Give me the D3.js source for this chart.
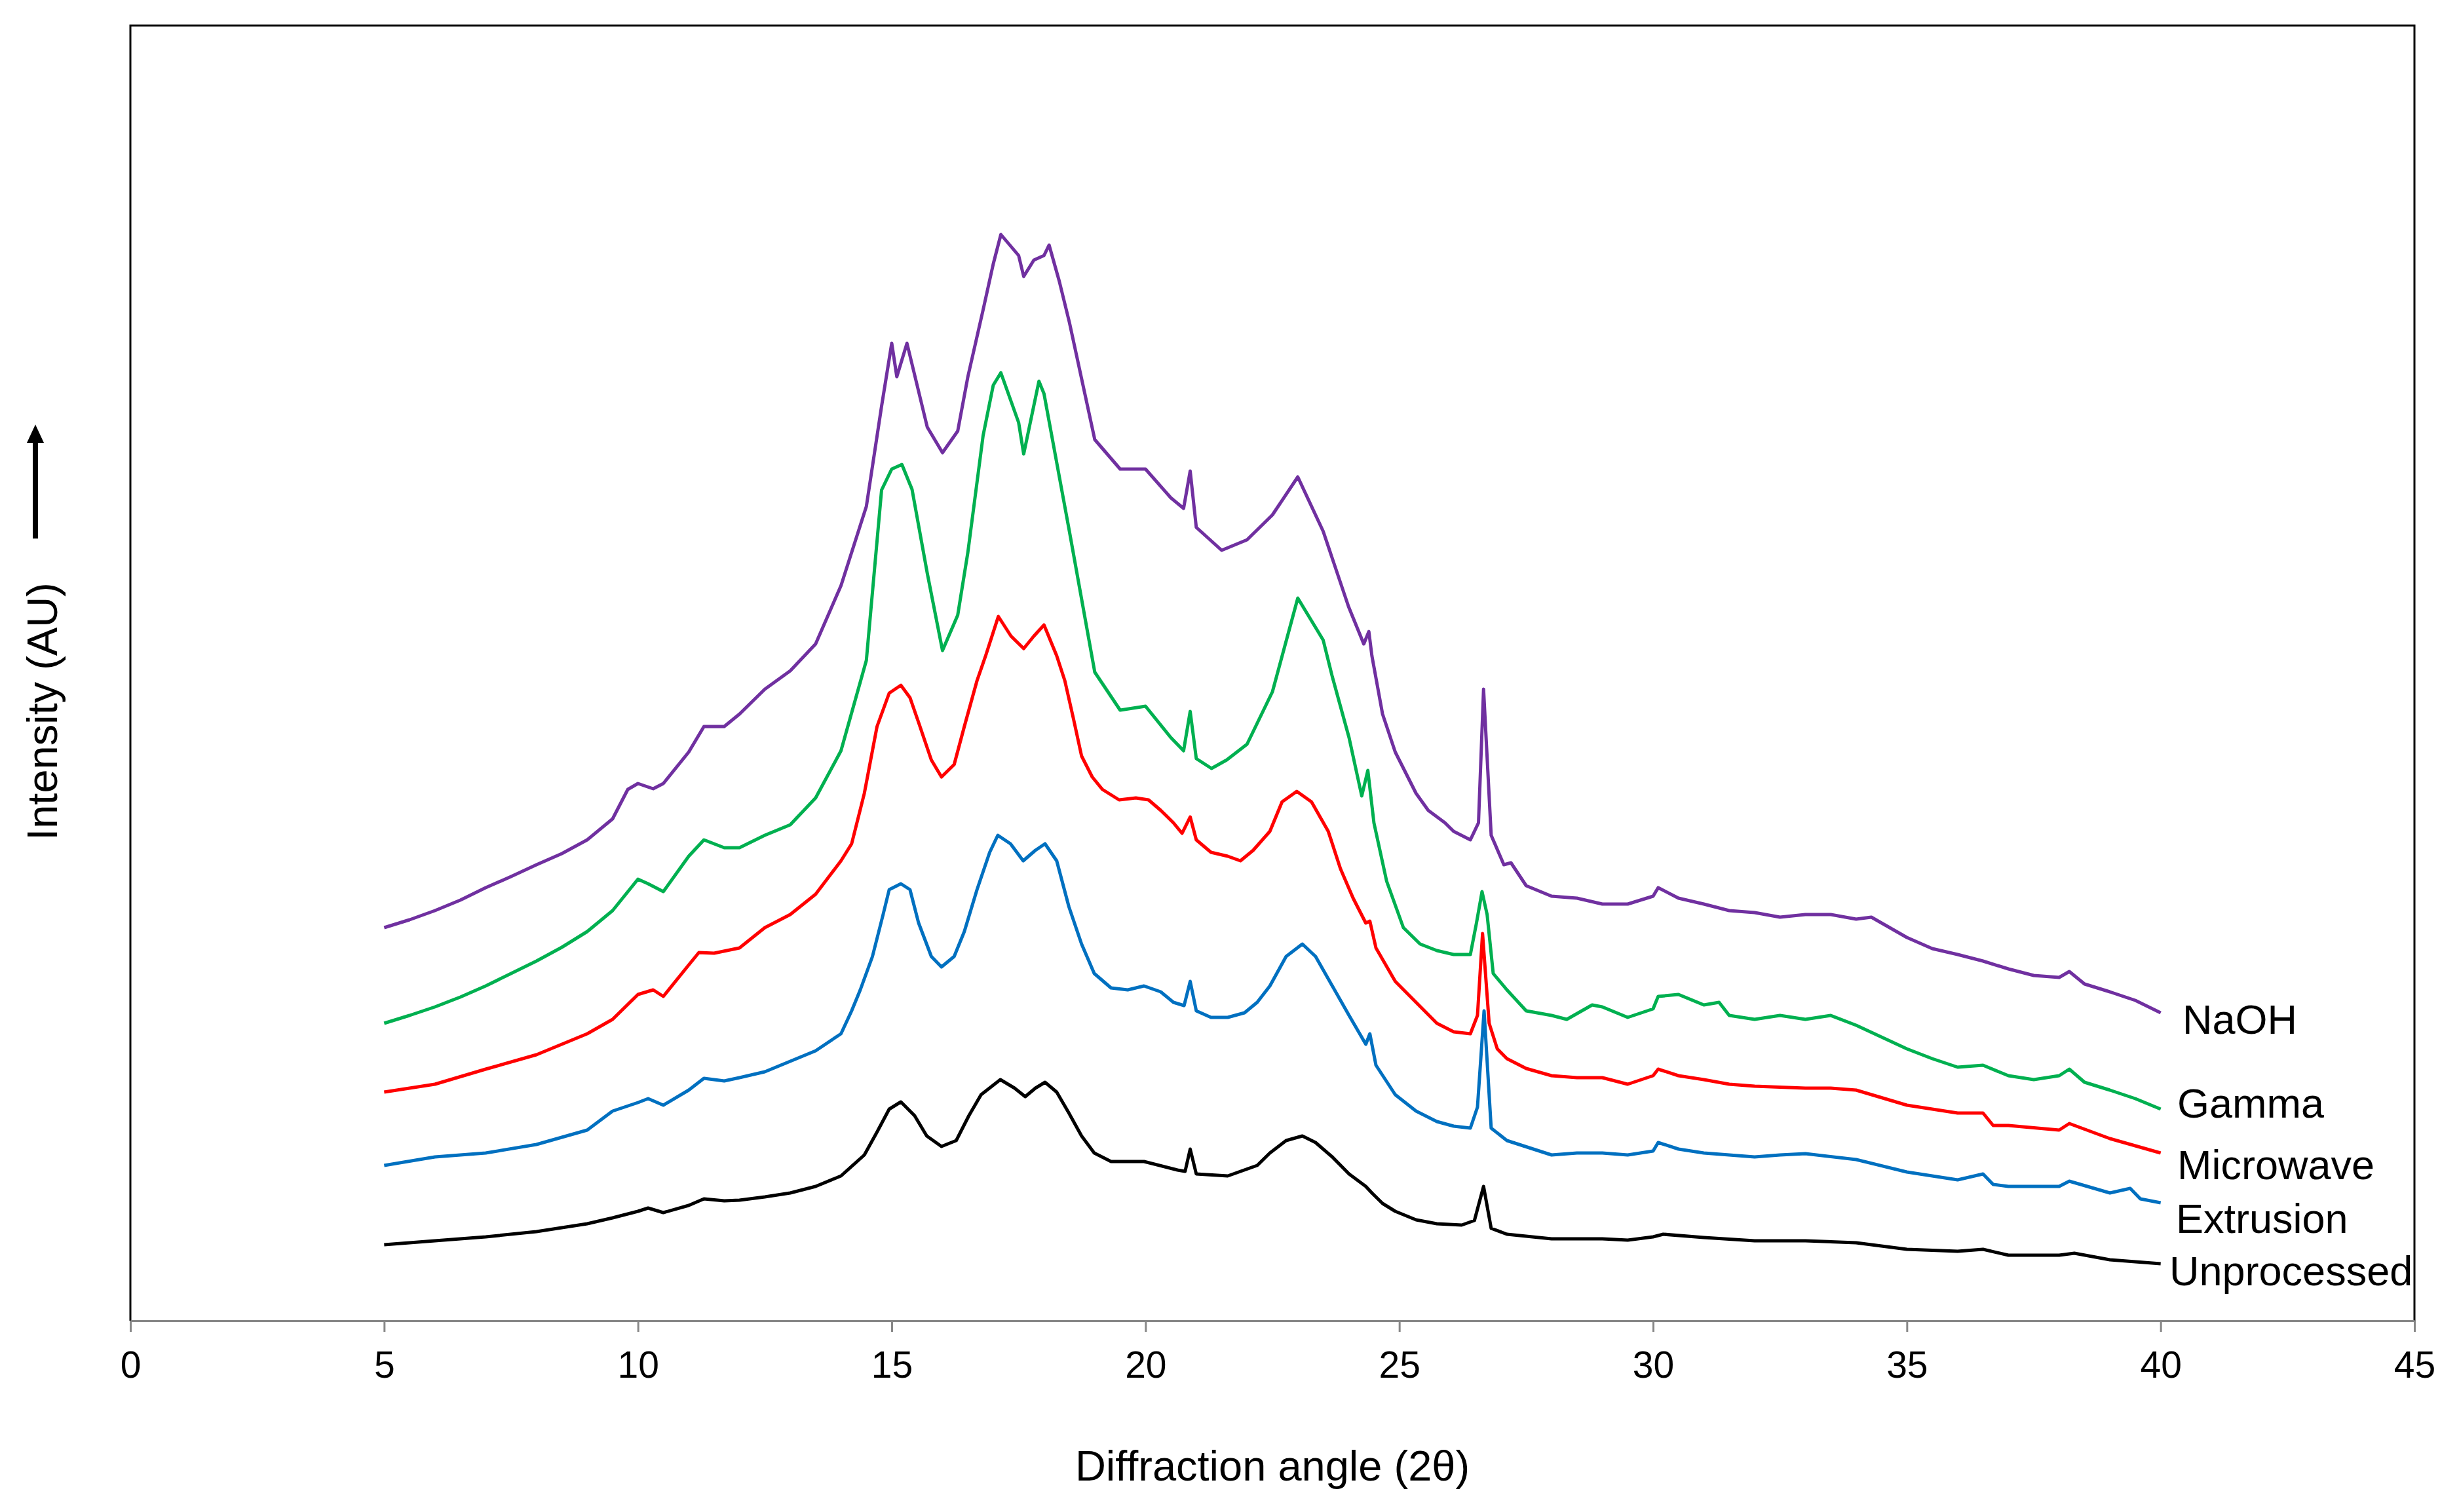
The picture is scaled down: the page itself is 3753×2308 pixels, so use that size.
<!DOCTYPE html>
<html>
<head>
<meta charset="utf-8">
<script src="https://cdn.jsdelivr.net/npm/d3@7"></script>
<style>
  body { margin: 0; background: #fff; }
  text { font-family: "Liberation Sans", Arial, sans-serif; fill: #000; }
</style>
</head>
<body>
<svg id="chart" width="3753" height="2308"></svg>
<script>
// diffraction angle (2 theta) vs intensity (arbitrary units)
var unprocessed = [[5,116],[6,122],[7,128],[8,136],[9,148],[9.5,157],[10,167],[10.2,172],[10.5,165],[11,176],[11.3,186],[11.7,183],[12,184],[12.5,189],[13,195],[13.5,205],[14,221],[14.46,253],[14.71,288],[14.95,323],[15.18,334],[15.45,313],[15.69,282],[15.98,266],[16.27,275],[16.52,313],[16.76,345],[17.14,368],[17.42,355],[17.63,342],[17.83,355],[18.02,364],[18.25,349],[18.49,317],[18.74,282],[18.99,256],[19.32,243],[19.97,243],[20.63,230],[20.78,228],[20.88,262],[21,224],[21.62,221],[22.2,237],[22.45,256],[22.77,275],[23.09,282],[23.35,272],[23.68,250],[24.01,224],[24.34,205],[24.46,195],[24.67,179],[24.92,167],[25.33,154],[25.74,148],[26.23,146],[26.48,153],[26.66,205],[26.81,141],[27.12,132],[28,125],[29,125],[29.5,123],[30,128],[30.2,132],[31,127],[32,122],[33,122],[34,119],[35,109],[36,106],[36.5,109],[37,100],[38,100],[38.3,103],[39,93],[40,87]];

var extrusion = [[5,237],[6,250],[7,256],[8,269],[9,291],[9.5,320],[10,333],[10.2,339],[10.5,329],[11,352],[11.3,370],[11.7,366],[12,371],[12.5,380],[13,396],[13.5,412],[14,438],[14.21,473],[14.38,505],[14.62,556],[14.83,620],[14.95,658],[15.18,667],[15.36,658],[15.53,607],[15.78,556],[15.98,540],[16.23,556],[16.43,594],[16.68,658],[16.93,715],[17.09,741],[17.34,728],[17.59,702],[17.83,718],[18.02,728],[18.25,702],[18.49,632],[18.74,575],[18.99,530],[19.32,508],[19.65,505],[19.97,511],[20.3,502],[20.55,486],[20.76,481],[20.88,518],[21,473],[21.29,463],[21.62,463],[21.95,470],[22.2,486],[22.45,511],[22.77,556],[23.09,575],[23.35,556],[23.68,511],[24.01,466],[24.34,422],[24.42,438],[24.54,390],[24.92,345],[25.33,320],[25.74,304],[26.07,297],[26.4,294],[26.54,326],[26.67,473],[26.81,294],[27.12,275],[28,253],[28.5,256],[29,256],[29.5,253],[30,259],[30.1,272],[30.5,262],[31,256],[31.5,253],[32,250],[32.5,253],[33,255],[34,246],[35,227],[36,215],[36.5,224],[36.7,208],[37,205],[38,205],[38.2,213],[39,195],[39.4,202],[39.6,186],[40,180]];

var microwave = [[5,349],[6,361],[7,384],[8,406],[9,438],[9.5,460],[10,498],[10.3,505],[10.5,495],[11,543],[11.2,562],[11.5,561],[12,569],[12.5,600],[13,620],[13.5,651],[14,702],[14.21,728],[14.46,805],[14.71,907],[14.95,958],[15.18,970],[15.36,951],[15.53,913],[15.78,856],[15.98,830],[16.23,849],[16.43,907],[16.68,977],[16.85,1015],[17.1,1075],[17.35,1045],[17.6,1026],[17.8,1045],[18,1062],[18.25,1015],[18.41,977],[18.58,919],[18.74,862],[18.95,830],[19.15,811],[19.48,795],[19.81,798],[20.06,795],[20.3,779],[20.55,760],[20.72,744],[20.88,769],[21,734],[21.29,715],[21.62,709],[21.87,702],[22.12,718],[22.45,747],[22.69,792],[22.98,808],[23.27,792],[23.6,747],[23.84,690],[24.09,645],[24.34,607],[24.42,610],[24.54,569],[24.92,518],[25.33,486],[25.74,454],[26.07,441],[26.4,438],[26.54,466],[26.64,591],[26.77,454],[26.93,415],[27.12,400],[27.5,385],[28,374],[28.5,371],[29,371],[29.5,361],[30,374],[30.1,384],[30.5,374],[31,368],[31.5,361],[32,358],[33,355],[33.5,355],[34,352],[35,329],[36,317],[36.5,317],[36.7,298],[37,298],[38,291],[38.2,301],[39,278],[40,256]];

var gamma = [[5,454],[5.5,466],[6,479],[6.5,494],[7,511],[7.5,530],[8,549],[8.5,570],[9,594],[9.5,626],[10,674],[10.2,667],[10.5,655],[11,709],[11.3,734],[11.7,722],[12,722],[12.5,741],[13,757],[13.5,798],[14,870],[14.5,1008],[14.8,1268],[15,1300],[15.2,1307],[15.4,1269],[15.7,1141],[16,1023],[16.3,1077],[16.5,1173],[16.8,1351],[17,1428],[17.15,1447],[17.5,1371],[17.6,1323],[17.9,1434],[18,1415],[18.5,1205],[19,990],[19.5,932],[20,938],[20.5,890],[20.75,870],[20.88,930],[21,858],[21.3,843],[21.6,856],[22,880],[22.5,960],[23,1103],[23.5,1039],[23.68,983],[24.01,890],[24.26,801],[24.38,840],[24.5,760],[24.75,671],[25.08,600],[25.41,575],[25.74,565],[26.07,559],[26.4,559],[26.52,607],[26.63,655],[26.73,620],[26.85,530],[27.12,505],[27.5,473],[28,466],[28.3,460],[28.8,482],[29,479],[29.5,463],[30,476],[30.1,495],[30.5,498],[31,482],[31.3,486],[31.5,466],[32,460],[32.5,466],[33,460],[33.5,466],[34,451],[35,415],[35.5,400],[36,387],[36.5,390],[37,374],[37.5,368],[38,374],[38.2,384],[38.5,364],[39,352],[39.5,339],[40,323]];

var naoh = [[5,600],[5.5,612],[6,626],[6.5,642],[7,661],[7.5,678],[8,696],[8.5,713],[9,734],[9.5,766],[9.8,811],[10,820],[10.3,812],[10.5,820],[11,868],[11.3,907],[11.7,907],[12,926],[12.5,964],[13,992],[13.5,1033],[14,1122],[14.5,1243],[14.8,1396],[15,1492],[15.1,1441],[15.3,1492],[15.5,1428],[15.7,1364],[16,1325],[16.3,1358],[16.5,1441],[16.8,1543],[17,1613],[17.15,1658],[17.5,1626],[17.6,1594],[17.8,1619],[18,1626],[18.1,1642],[18.3,1587],[18.5,1524],[19,1345],[19.5,1300],[20,1300],[20.5,1256],[20.75,1240],[20.88,1297],[21,1211],[21.5,1176],[22,1192],[22.5,1230],[23,1288],[23.5,1205],[24,1090],[24.3,1033],[24.4,1052],[24.46,1015],[24.67,926],[24.92,868],[25.33,805],[25.57,779],[25.9,760],[26.07,747],[26.4,734],[26.56,760],[26.66,964],[26.81,741],[27.06,696],[27.2,699],[27.5,664],[28,648],[28.5,645],[29,636],[29.5,636],[30,648],[30.1,661],[30.5,645],[31,636],[31.5,626],[32,623],[32.5,616],[33,620],[33.5,620],[34,613],[34.3,616],[35,585],[35.5,568],[36,559],[36.5,549],[37,537],[37.5,527],[38,524],[38.2,533],[38.5,514],[39,502],[39.5,489],[40,470]];

var seriesNames = ["NaOH", "Gamma", "Microwave", "Extrusion", "Unprocessed"];
var seriesColors = ["#7030a0", "#00b050", "#ff0000", "#0070c0", "#000000"];
var seriesData = [naoh, gamma, microwave, extrusion, unprocessed];
var xTicks = [0, 5, 10, 15, 20, 25, 30, 35, 40, 45];

var margin = {left: 199, top: 39, right: 68, bottom: 292};
var width = 3753, height = 2308;
var innerwidth = width - margin.left - margin.right,
    innerheight = height - margin.top - margin.bottom;

var x_scale = d3.scaleLinear().domain([0, 45]).range([0, innerwidth]);
var y_scale = d3.scaleLinear().domain([0, 1977]).range([innerheight, 0]);

var svg = d3.select("#chart");
var g = svg.append("g")
    .attr("transform", "translate(" + margin.left + "," + margin.top + ")");

// frame (left, top, right black)
g.append("path")
    .attr("d", "M0," + innerheight + "V0H" + innerwidth + "V" + innerheight)
    .attr("fill", "none")
    .attr("stroke", "#000")
    .attr("stroke-width", 3);

var x_axis = d3.axisBottom(x_scale)
    .tickValues(xTicks)
    .tickSize(17)
    .tickPadding(30)
    .tickSizeOuter(0);

var xg = g.append("g")
    .attr("transform", "translate(0," + innerheight + ")")
    .call(x_axis);
xg.select(".domain").attr("stroke", "#878787").attr("stroke-width", 3);
xg.selectAll(".tick line").attr("stroke", "#878787").attr("stroke-width", 3);
xg.selectAll(".tick text")
    .style("font-family", '"Liberation Sans", Arial, sans-serif')
    .style("font-size", "57px")
    .attr("fill", "#000");

var draw_line = d3.line()
    .x(function(d) { return x_scale(d[0]); })
    .y(function(d) { return y_scale(d[1]); });

g.selectAll(".xrd")
    .data(seriesData)
    .enter().append("path")
    .attr("class", "xrd")
    .attr("d", function(d) { return draw_line(d); })
    .attr("fill", "none")
    .attr("stroke", function(_, i) { return seriesColors[i]; })
    .attr("stroke-width", 5)
    .attr("stroke-linejoin", "round");

// labels at the end of each trace
var labelPos = [[3331, 1578], [3323, 1706], [3323, 1800], [3321, 1882], [3311, 1962]];
svg.selectAll(".slabel")
    .data(seriesNames)
    .enter().append("text")
    .attr("class", "slabel")
    .attr("x", function(_, i) { return labelPos[i][0]; })
    .attr("y", function(_, i) { return labelPos[i][1]; })
    .style("font-size", "63px")
    .text(function(d) { return d; });

svg.append("text")
    .attr("x", margin.left + innerwidth / 2)
    .attr("y", 2260)
    .attr("text-anchor", "middle")
    .style("font-size", "65px")
    .text("Diffraction angle (2θ)");

svg.append("text")
    .attr("transform", "translate(87,1086) rotate(-90)")
    .attr("text-anchor", "middle")
    .style("font-size", "65px")
    .text("Intensity (AU)");

// arrow above the y label
svg.append("line")
    .attr("x1", 54).attr("x2", 54)
    .attr("y1", 822).attr("y2", 672)
    .attr("stroke", "#000")
    .attr("stroke-width", 8);
svg.append("path")
    .attr("d", "M54,648L67,676L41,676Z")
    .attr("fill", "#000");
</script>
</body>
</html>
